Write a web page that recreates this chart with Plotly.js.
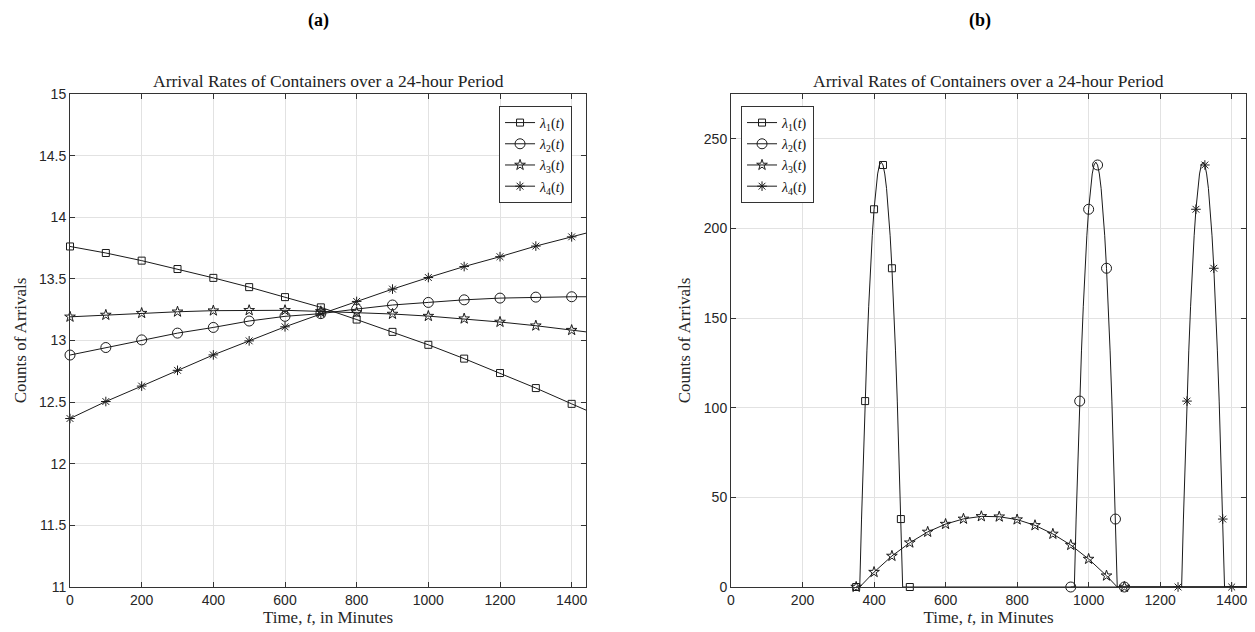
<!DOCTYPE html>
<html><head><meta charset="utf-8">
<script src="https://cdn.plot.ly/plotly-3.0.1.min.js"></script>
<style>html,body{margin:0;padding:0;background:#fff}#chart{width:1255px;height:632px}</style>
</head><body><div id="chart"></div>
<script>
// ---- shared labels / styles ----
const legendLabels = ['<i>λ</i><sub>1</sub>(<i>t</i>)', '<i>λ</i><sub>2</sub>(<i>t</i>)', '<i>λ</i><sub>3</sub>(<i>t</i>)', '<i>λ</i><sub>4</sub>(<i>t</i>)'];
const plotTitle = 'Arrival Rates of Containers over a 24-hour Period';
const xTitle = 'Time, <i>t</i>, in Minutes';
const yTitle = 'Counts of Arrivals';
const xTicks = [0, 200, 400, 600, 800, 1000, 1200, 1400];

// ---- panel (a) ----
const aMarkX = [0,100,200,300,400,500,600,700,800,900,1000,1100,1200,1300,1400];
const aLineX = [0,100,200,300,400,500,600,700,800,900,1000,1100,1200,1300,1400,1440];
const aLambda1 = [13.763,13.710,13.648,13.580,13.508,13.433,13.352,13.269,13.170,13.070,12.965,12.853,12.736,12.614,12.486,12.435];
const aLambda2 = [12.882,12.943,13.005,13.060,13.106,13.158,13.196,13.218,13.255,13.288,13.309,13.330,13.344,13.352,13.355,13.355];
const aLambda3 = [13.192,13.207,13.222,13.233,13.242,13.245,13.245,13.236,13.228,13.215,13.198,13.177,13.150,13.120,13.084,13.070];
const aLambda4 = [12.367,12.505,12.630,12.758,12.883,12.997,13.111,13.215,13.317,13.417,13.511,13.600,13.680,13.766,13.841,13.871];

// ---- panel (b) ----
const b1X = [350,360,365,370,375,380,385,390,395,400,405,410,415,420,425,430,435,440,445,450,455,460,465,470,475,480,500,1440];
const b1Y = [0,0,37.9,72.4,103.7,131.7,156.3,177.8,195.9,210.7,222.2,230.4,235.4,237,235.4,230.4,222.2,210.7,195.9,177.8,156.3,131.7,103.7,72.4,37.9,0,0,0];
const b1MarkX = [350,375,400,425,450,475,500];

const b2X = [950,960,965,970,975,980,985,990,995,1000,1005,1010,1015,1020,1025,1030,1035,1040,1045,1050,1055,1060,1065,1070,1075,1080,1100,1440];
const b2Y = [0,0,37.9,72.4,103.7,131.7,156.3,177.8,195.9,210.7,222.2,230.4,235.4,237,235.4,230.4,222.2,210.7,195.9,177.8,156.3,131.7,103.7,72.4,37.9,0,0,0];
const b2MarkX = [950,975,1000,1025,1050,1075,1100];

const b3X = [350,360,400,450,500,550,600,650,700,750,800,850,900,950,1000,1050,1080,1100,1440];
const b3Y = [0,0,8.3,17.3,24.7,30.7,35.1,38.0,39.4,39.2,37.6,34.4,29.6,23.4,15.6,6.3,0,0,0];
const b3MarkX = [350,400,450,500,550,600,650,700,750,800,850,900,950,1000,1050,1100];

const b4X = [1250,1260,1265,1270,1275,1280,1285,1290,1295,1300,1305,1310,1315,1320,1325,1330,1335,1340,1345,1350,1355,1360,1365,1370,1375,1380,1400,1440];
const b4Y = [0,0,37.9,72.4,103.7,131.7,156.3,177.8,195.9,210.7,222.2,230.4,235.4,237,235.4,230.4,222.2,210.7,195.9,177.8,156.3,131.7,103.7,72.4,37.9,0,0,0];
const b4MarkX = [1250,1275,1300,1325,1350,1375,1400];

const symbols = ['square-open', 'circle-open', 'star-open', 'asterisk-open'];
const markerSizes = [7, 10, 8, 8];
const ink = '#1a1a1a';

function makeTrace(x, y, markX, i, xa, ya, legend) {
  const colors = x.map(v => markX.includes(v) ? ink : 'rgba(0,0,0,0)');
  return {
    x: x, y: y, type: 'scatter', mode: 'lines+markers', name: legendLabels[i],
    line: {color: ink, width: 1},
    marker: {symbol: symbols[i], size: markerSizes[i], color: colors, line: {width: 1}},
    xaxis: xa, yaxis: ya, legend: legend, cliponaxis: false, hoverinfo: 'x+y'
  };
}

const traces = [
  makeTrace(aLineX, aLambda1, aMarkX, 0, 'x', 'y', 'legend'),
  makeTrace(aLineX, aLambda2, aMarkX, 1, 'x', 'y', 'legend'),
  makeTrace(aLineX, aLambda3, aMarkX, 2, 'x', 'y', 'legend'),
  makeTrace(aLineX, aLambda4, aMarkX, 3, 'x', 'y', 'legend'),
  makeTrace(b1X, b1Y, b1MarkX, 0, 'x2', 'y2', 'legend2'),
  makeTrace(b2X, b2Y, b2MarkX, 1, 'x2', 'y2', 'legend2'),
  makeTrace(b3X, b3Y, b3MarkX, 2, 'x2', 'y2', 'legend2'),
  makeTrace(b4X, b4Y, b4MarkX, 3, 'x2', 'y2', 'legend2')
];

const serif = 'Liberation Serif, Times New Roman, serif';
const sans = 'Liberation Sans, Arial, sans-serif';
const axisCommon = {
  showline: true, linecolor: '#333', linewidth: 1, mirror: 'allticks',
  ticks: 'inside', ticklen: 5, tickcolor: '#333', tickwidth: 1,
  showgrid: true, gridcolor: '#e2e2e2', gridwidth: 1, zeroline: false,
  tickfont: {family: sans, size: 14, color: '#262626'}
};
const xTitleObj = {text: xTitle, font: {family: serif, size: 17, color: '#262626'}, standoff: 4};
const yTitleObj = {text: yTitle, font: {family: serif, size: 17, color: '#262626'}, standoff: 8};
const legendCommon = {
  bgcolor: '#ffffff', bordercolor: '#333', borderwidth: 1,
  font: {family: serif, size: 14, color: '#111'}, yanchor: 'top', tracegroupgap: 0
};

const layout = {
  width: 1255, height: 632,
  margin: {l: 70, r: 9, t: 94, b: 44.5},
  paper_bgcolor: '#fff', plot_bgcolor: '#fff',
  font: {family: sans, color: '#262626'},
  xaxis: Object.assign({}, axisCommon, {domain: [0, 0.43878], range: [0, 1440], tickvals: xTicks, anchor: 'y', title: xTitleObj}),
  yaxis: Object.assign({}, axisCommon, {domain: [0, 1], range: [11, 15], dtick: 0.5, tick0: 11, anchor: 'x', title: yTitleObj}),
  xaxis2: Object.assign({}, axisCommon, {domain: [0.56207, 1], range: [0, 1440], tickvals: xTicks, anchor: 'y2', title: xTitleObj}),
  yaxis2: Object.assign({}, axisCommon, {domain: [0, 1], range: [0, 275], dtick: 50, tick0: 0, anchor: 'x2', title: yTitleObj}),
  legend: Object.assign({}, legendCommon, {x: 0.4269, xanchor: 'right', y: 0.9757}),
  legend2: Object.assign({}, legendCommon, {x: 0.5706, xanchor: 'left', y: 0.9757}),
  showlegend: true,
  annotations: [
    {text: plotTitle, xref: 'x domain', yref: 'paper', x: 0.5, y: 1.027, xanchor: 'center', yanchor: 'middle', showarrow: false, font: {family: serif, size: 17.5, color: '#222'}},
    {text: plotTitle, xref: 'x2 domain', yref: 'paper', x: 0.5, y: 1.027, xanchor: 'center', yanchor: 'middle', showarrow: false, font: {family: serif, size: 17.5, color: '#222'}},
    {text: '<b>(a)</b>', xref: 'paper', yref: 'paper', x: 0.2109, y: 1.15, xanchor: 'center', yanchor: 'middle', showarrow: false, font: {family: serif, size: 18, color: '#000'}},
    {text: '<b>(b)</b>', xref: 'paper', yref: 'paper', x: 0.7738, y: 1.15, xanchor: 'center', yanchor: 'middle', showarrow: false, font: {family: serif, size: 18, color: '#000'}}
  ]
};

Plotly.newPlot('chart', traces, layout, {displayModeBar: false, staticPlot: true});
</script>
</body></html>
